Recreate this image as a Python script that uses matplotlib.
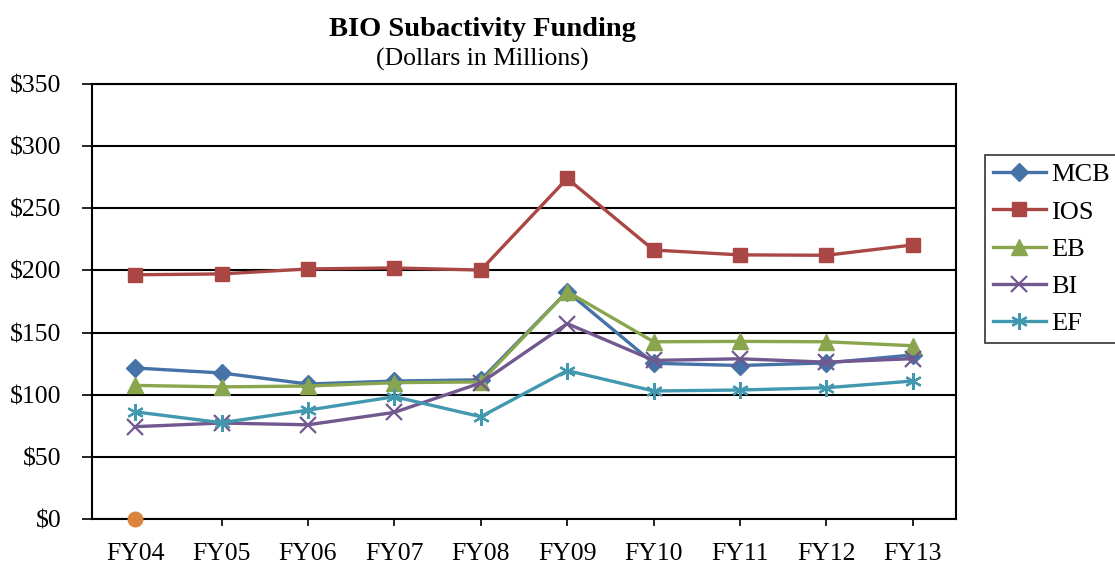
import numpy as np
import matplotlib.pyplot as plt

plt.rcParams['font.family'] = ['Liberation Serif', 'DejaVu Serif']

years = ["FY04", "FY05", "FY06", "FY07", "FY08", "FY09", "FY10", "FY11", "FY12", "FY13"]
mcb = [121.5, 117.5, 108.6, 111.0, 112.0, 183.0, 125.3, 123.5, 125.6, 132.0]
ios = [196.5, 197.2, 201.2, 202.0, 200.3, 274.0, 216.4, 212.5, 212.2, 220.5]
eb = [107.5, 106.3, 107.0, 109.7, 110.3, 183.0, 142.6, 142.9, 142.6, 139.4]
bi = [74.3, 77.2, 75.8, 85.8, 109.5, 157.2, 127.6, 128.9, 126.2, 129.0]
ef = [86.2, 77.5, 87.6, 98.4, 82.3, 119.4, 103.0, 103.8, 105.6, 111.0]
extra = [0.0]   # lone orange point at FY04

series = [
    ("MCB", mcb, "#4572A7", "D", 9.5),
    ("IOS", ios, "#AA4643", "s", 10),
    ("EB", eb, "#89A54E", "^", 11),
    ("BI", bi, "#71588F", "x", 11),
    ("EF", ef, "#4198AF", (6, 2, 0), 12),
]

fig = plt.figure(figsize=(11.15, 5.65), dpi=100)
ax = fig.add_axes([92 / 1115, 1 - 519 / 565, (956 - 92) / 1115, (519 - 84) / 565])

x = np.arange(len(years))
for name, vals, col, mk, ms in series:
    ax.plot(x, vals, color=col, marker=mk, markersize=ms, linewidth=2.4,
            markeredgewidth=1.6 if mk in ("x",) or isinstance(mk, tuple) else 1,
            markeredgecolor=col, label=name)

ax.plot(x[:len(extra)], extra, "o", color="#DB843D", markersize=10.5, clip_on=False, zorder=5)

ax.set_xlim(-0.5, len(years) - 0.5)
ax.set_ylim(0, 350)
ax.set_yticks(np.arange(0, 351, 50))
ax.set_yticklabels(["$%d" % v for v in range(0, 351, 50)])
ax.set_xticks(x)
ax.set_xticklabels(years)
ax.yaxis.grid(True, color="black", linewidth=1.5)
ax.set_axisbelow(True)
ax.tick_params(axis="both", labelsize=18.5, width=1.2)
ax.tick_params(axis="y", direction="inout", length=14, pad=15)
ax.tick_params(axis="x", direction="out", length=5, pad=12)
for sp in ax.spines.values():
    sp.set_color("black")
    sp.set_linewidth(1.5)

fig.text(482 / 1115, 1 - 29 / 565, "BIO Subactivity Funding", ha="center", va="center",
         fontsize=20.5, fontweight="bold")
fig.text(482 / 1115, 1 - 59 / 565, "(Dollars in Millions)", ha="center", va="center",
         fontsize=18.5)

leg = fig.legend(loc="upper left", bbox_to_anchor=(985 / 1115, 1 - 155 / 565),
                 fontsize=19, frameon=True, fancybox=False, edgecolor="black",
                 handlelength=2.0, labelspacing=0.52, borderpad=0.3, borderaxespad=0,
                 handletextpad=0.2)
leg.get_frame().set_linewidth(1.2)

plt.savefig("out.png", dpi=100)
